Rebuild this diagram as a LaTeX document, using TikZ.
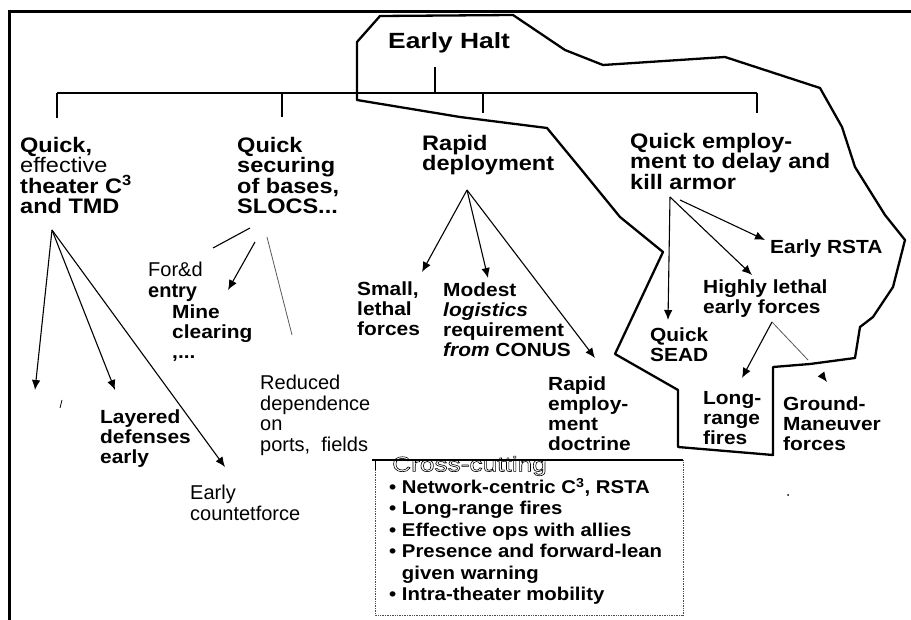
\documentclass[tikz,border=0pt]{standalone}
\usepackage{fontspec}
\setmainfont{Liberation Sans}
\newfontfamily\fA{Liberation Sans}[FakeStretch=1.12]
\newfontfamily\fB{Liberation Sans}[FakeStretch=1.1]
\newfontfamily\fH{Liberation Sans}[FakeStretch=1.2]
\newfontfamily\fC{Liberation Sans}[FakeStretch=1.1]
\newfontfamily\fT{Liberation Sans}[FakeStretch=1.25]
\usetikzlibrary{arrows.meta}
\newcommand\outlinedtext[1]{\special{pdf:literal direct 1 Tr 0.6 w}#1\special{pdf:literal direct 0 Tr}}
\tikzset{
  headtxt/.style={anchor=north west, inner sep=0pt, font=\fH\bfseries\fontsize{22}{22}\selectfont},
  lvlone/.style={anchor=north west, inner sep=0pt, align=left, font=\fA\bfseries\fontsize{21}{20.5}\selectfont},
  lvltwo/.style={anchor=north west, inner sep=0pt, align=left, font=\fB\bfseries\fontsize{19}{20}\selectfont},
  plaintxt/.style={anchor=north west, inner sep=0pt, align=left, font=\fontsize{20}{20.5}\selectfont},
  cctxt/.style={anchor=north west, inner sep=0pt, align=left, font=\fC\bfseries\fontsize{18.5}{21.4}\selectfont},
  cctitle/.style={anchor=north west, inner sep=0pt, font=\fT\fontsize{21}{21}\selectfont},
  tree/.style={line width=2.6pt},
  outline/.style={line width=2.3pt, line join=round},
  arr/.style={line width=1.1pt, -{Latex[length=10pt,width=8.5pt]}},
  lin/.style={line width=1.1pt},
  faint/.style={line width=0.8pt, black!65},
}
\begin{document}
\begin{tikzpicture}[x=1pt,y=-1pt]
\useasboundingbox (0,0) rectangle (911,620);
% frame
\draw[line width=3pt] (9,620) -- (9,12) -- (911,12);
% Early Halt outline
\draw[outline] (357,100) -- (357,42) -- (380,16) -- (513,15) -- (565,50) -- (603,65) -- (725,57)
  -- (820,88) -- (842,127) -- (855,167) -- (885,215) -- (905,240) -- (893,287) -- (873,317)
  -- (860,327) -- (855,358) -- (810,364) -- (773,367) -- (773,455) -- (678,447) -- (678,390)
  -- (615,354) -- (663,252) -- (620,217) -- (580,168) -- (547,128) -- (460,117) -- cycle;
% root
\node[headtxt] (eh) at (388,32) {Early Halt};
\coordinate (ehb) at (435,67);
\coordinate (ehj) at (435,93);
\draw[tree] (ehb) -- (ehj);
\coordinate (barl) at (57,93);
\coordinate (barr) at (757,93);
\draw[tree] (barl) -- (barr);
\coordinate (d1a) at (57,93);  \coordinate (d1b) at (57,118);
\coordinate (d2a) at (282,93); \coordinate (d2b) at (282,117);
\coordinate (d3a) at (483,93); \coordinate (d3b) at (483,113);
\coordinate (d4a) at (757,93); \coordinate (d4b) at (757,113);
\draw[tree] (d1a) -- (d1b);
\draw[tree] (d2a) -- (d2b);
\draw[tree] (d3a) -- (d3b);
\draw[tree] (d4a) -- (d4b);
% level one
\node[lvlone] (q1) at (20,137) {Quick,\\{\mdseries effective}\\theater C\textsuperscript{3}\\and TMD};
\node[lvlone] (q2) at (237,137) {Quick\\securing\\of bases,\\SLOCS...};
\node[lvlone] (rd) at (422,135) {Rapid\\deployment};
\node[lvlone] (qe) at (630,133) {Quick employ-\\ment to delay and\\kill armor};
% level two texts
\node[plaintxt] (fe) at (148,262) {For\&d\\\textbf{entry}};
\node[lvltwo] (mc) at (172,305) {Mine\\clearing\\,...};
\node[plaintxt] (rdp) at (260,375) {Reduced\\dependence\\on\\ports,\ \ fields};
\node[lvltwo] (ld) at (100,410) {Layered\\defenses\\early};
\node[plaintxt] (ec) at (190,485) {Early\\countetforce};
\node[lvltwo] (sl) at (357,282) {Small,\\lethal\\forces};
\node[lvltwo] (ml) at (443,283) {Modest\\\textit{logistics}\\requirement\\\textit{from} CONUS};
\node[lvltwo] (re) at (548,377) {Rapid\\employ-\\ment\\doctrine};
\node[lvltwo] (qs) at (650,328) {Quick\\SEAD};
\node[lvltwo] (hl) at (703,280) {Highly lethal\\early forces};
\node[lvltwo] (er) at (770,240) {Early RSTA};
\node[lvltwo] (lr) at (703,391) {Long-\\range\\fires};
\node[lvltwo] (gm) at (783,397) {Ground-\\Maneuver\\forces};
% connectors: theater C3 and TMD
\coordinate (q1apex) at (52,230);
\coordinate (q1t1) at (35,390);
\coordinate (q1t2) at (115,390);
\coordinate (q1t3) at (225,467);
\draw[arr] (q1apex) -- (q1t1);
\draw[arr] (q1apex) -- (q1t2);
\draw[arr] (q1apex) -- (q1t3);
% SLOCS
\coordinate (q2a) at (250,228);
\coordinate (q2fe) at (213,248);
\draw[lin] (q2a) -- (q2fe);
\coordinate (q2b) at (255,242);
\coordinate (q2mc) at (228,290);
\draw[arr] (q2b) -- (q2mc);
\coordinate (q2c) at (267,237);
\coordinate (q2rd) at (292,335);
\draw[faint] (q2c) -- (q2rd);
% Rapid deployment
\coordinate (rdapex) at (467,190);
\coordinate (rdt1) at (422,272);
\coordinate (rdt2) at (488,278);
\coordinate (rdt3) at (595,358);
\draw[arr] (rdapex) -- (rdt1);
\draw[arr] (rdapex) -- (rdt2);
\draw[arr] (rdapex) -- (rdt3);
% Quick employment
\coordinate (qeapex) at (670,197);
\coordinate (qet1) at (668,320);
\coordinate (qet2) at (752,275);
\coordinate (qes3) at (680,200);
\coordinate (qet3) at (765,240);
\draw[arr] (qeapex) -- (qet1);
\draw[arr] (qeapex) -- (qet2);
\draw[arr] (qes3) -- (qet3);
% Highly lethal early forces
\coordinate (hlapex) at (772,322);
\coordinate (hlt1) at (742,378);
\draw[arr] (hlapex) -- (hlt1);
\coordinate (hlmid) at (808,360);
\draw[faint] (hlapex) -- (hlmid);
\coordinate (gmtail) at (824,378);
\coordinate (gmtip) at (827,382);
\draw[arr] (gmtail) -- (gmtip);
% stray marks
\coordinate (sm1) at (62,400);
\coordinate (sm2) at (60,408);
\draw[line width=0.8pt] (sm1) -- (sm2);
\fill (788,495) circle (1pt);
% cross-cutting box
\coordinate (cctl) at (375,460);
\coordinate (cctr) at (683,460);
\coordinate (ccbl) at (375,615);
\coordinate (ccbr) at (683,615);
\draw[line width=0.7pt, black!70, densely dotted] (cctl) -- (ccbl) -- (ccbr) -- (cctr);
\draw[line width=0.9pt] (cctl) -- ++(0,10);
\node[cctitle] (cct) at (392,456) {\outlinedtext{Cross-cutting}};
\draw[line width=2.6pt] (372,460) -- (cctr);
\node[cctxt] (cci) at (389,478) {\textbullet\ Network-centric C\textsuperscript{3}, RSTA\\
\textbullet\ Long-range fires\\
\textbullet\ Effective ops with allies\\
\textbullet\ Presence and forward-lean\\
\phantom{\textbullet\ }given warning\\
\textbullet\ Intra-theater mobility};
\end{tikzpicture}
\end{document}
